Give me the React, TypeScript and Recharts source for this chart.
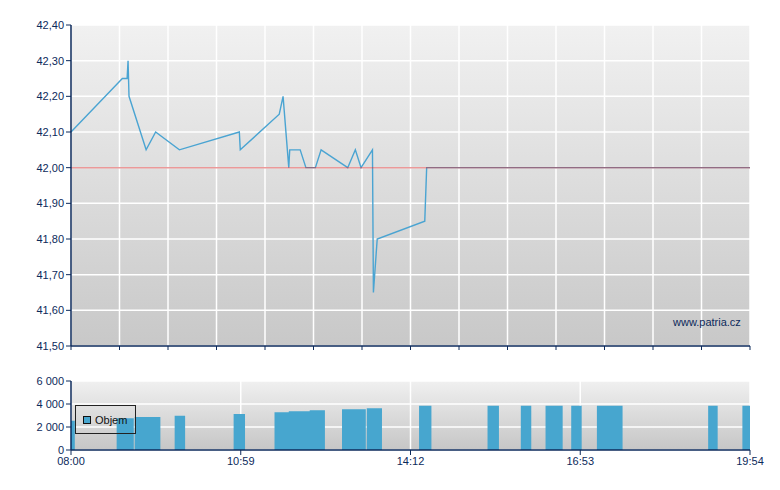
import React from "react";
import {
  ComposedChart,
  Line,
  Area,
  XAxis,
  YAxis,
  CartesianGrid,
  Legend,
} from "recharts";

// x positions are minutes along the session axis (0 = 08:00, 714 = 19:54)
const priceTimes = [0, 54, 59, 60, 61, 79, 89, 114, 177, 178, 219, 223, 229, 230, 241, 247, 257, 263, 291, 299, 305, 317, 318, 322, 372, 374, 714];
const priceValues = [42.1, 42.25, 42.25, 42.3, 42.2, 42.05, 42.1, 42.05, 42.1, 42.05, 42.15, 42.2, 42.0, 42.05, 42.05, 42.0, 42.0, 42.05, 42.0, 42.05, 42.0, 42.05, 41.65, 41.8, 41.85, 42.0, 42.0];
const prevClose = 42.0;

const volStart = [0, 48, 67, 109, 171, 214, 229, 251, 285, 311, 366, 438, 473, 499, 526, 553, 670, 706];
const volEnd = [4, 66, 94, 120, 183, 229, 251, 267, 310, 327, 379, 450, 484, 517, 537, 580, 680, 714];
const volValues = [2540, 2770, 2860, 2970, 3120, 3290, 3380, 3460, 3550, 3640, 3840, 3840, 3840, 3840, 3840, 3840, 3840, 3840];

const priceTicks = [41.5, 41.6, 41.7, 41.8, 41.9, 42.0, 42.1, 42.2, 42.3, 42.4];
const volTicks = [0, 2000, 4000, 6000];
const timeLabels = ["08:00", "10:59", "14:12", "16:53", "19:54"];
const sessionLength = 714;
const topGridCount = 14;

const NAVY = "#0c2a5b";
const BLUE = "#47a6cf";
const FONT = '"Liberation Sans", Arial, sans-serif';

const priceData = priceTimes.map((t, i) => ({ t, p: priceValues[i], ref: prevClose }));

const volData: { t: number; v: number }[] = [];
volStart.forEach((s, i) => {
  volData.push({ t: s, v: volValues[i] });
  volData.push({ t: volEnd[i], v: 0 });
});

const topTicks = Array.from({ length: topGridCount + 1 }, (_, i) => (i * sessionLength) / topGridCount);
const labelTicks = timeLabels.map((_, i) => (i * sessionLength) / (timeLabels.length - 1));

const tickStyle = { fill: NAVY, fontSize: 11, fontFamily: FONT };

const VolumeLegend = (props: any) => {
  const item = (props.payload || [])[0];
  return (
    <div
      style={{
        width: 61,
        height: 29,
        boxSizing: "border-box",
        border: "1px solid #222",
        position: "relative",
        fontFamily: FONT,
        fontSize: 11,
        color: "#111",
      }}
    >
      <span
        style={{
          position: "absolute",
          left: 7,
          top: 10,
          width: 8,
          height: 8,
          boxSizing: "border-box",
          border: "1px solid #111",
          background: BLUE,
        }}
      />
      <span style={{ position: "absolute", left: 19, top: 8, lineHeight: "12px" }}>
        {item ? item.value : "Objem"}
      </span>
    </div>
  );
};

export default function App() {
  return (
    <div style={{ position: "absolute", left: 0, top: 0, width: 780, height: 490, background: "#fff" }}>
      <div style={{ position: "absolute", left: 0, top: 0 }}>
        <ComposedChart width={780} height={360} data={priceData} margin={{ top: 25, right: 30, left: 0, bottom: 4 }}>
          <defs>
            <linearGradient id="bgTop" x1="0" y1="0" x2="0" y2="1">
              <stop offset="0%" stopColor="#f1f1f1" />
              <stop offset="100%" stopColor="#c8c8c8" />
            </linearGradient>
          </defs>
          <CartesianGrid fill="url(#bgTop)" fillOpacity={1} stroke="#ffffff" strokeWidth={1.5} />
          <XAxis
            dataKey="t"
            type="number"
            domain={[0, sessionLength]}
            ticks={topTicks}
            tickFormatter={() => ""}
            height={10}
            tickSize={4}
            axisLine={{ stroke: NAVY, strokeWidth: 1.5 }}
            tickLine={{ stroke: NAVY }}
          />
          <YAxis
            type="number"
            domain={[41.5, 42.4]}
            ticks={priceTicks}
            width={71}
            tickSize={5}
            tick={tickStyle}
            tickFormatter={(v: number) => v.toFixed(2).replace(".", ",")}
            axisLine={{ stroke: NAVY, strokeWidth: 1.5 }}
            tickLine={{ stroke: NAVY }}
          />
          <Line
            type="linear"
            dataKey="p"
            stroke="#4aa4d2"
            strokeWidth={1.4}
            dot={false}
            activeDot={false}
            isAnimationActive={false}
          />
          <Line
            type="linear"
            dataKey="ref"
            stroke="#d83434"
            strokeOpacity={0.5}
            strokeWidth={1.5}
            dot={false}
            activeDot={false}
            isAnimationActive={false}
          />
        </ComposedChart>
      </div>
      <div
        style={{
          position: "absolute",
          left: 673,
          top: 316,
          fontFamily: FONT,
          fontSize: 11,
          color: NAVY,
        }}
      >
        www.patria.cz
      </div>
      <div style={{ position: "absolute", left: 0, top: 360 }}>
        <ComposedChart width={780} height={130} data={volData} margin={{ top: 21, right: 30, left: 0, bottom: 10 }}>
          <defs>
            <linearGradient id="bgBottom" x1="0" y1="0" x2="0" y2="1">
              <stop offset="0%" stopColor="#f0f0f0" />
              <stop offset="100%" stopColor="#c6c6c6" />
            </linearGradient>
          </defs>
          <CartesianGrid fill="url(#bgBottom)" fillOpacity={1} stroke="#ffffff" strokeWidth={1.5} />
          <XAxis
            dataKey="t"
            type="number"
            domain={[0, sessionLength]}
            ticks={labelTicks}
            tickFormatter={(_: number, i: number) => timeLabels[i]}
            height={30}
            tickSize={5}
            tick={tickStyle}
            interval={0}
            axisLine={{ stroke: NAVY, strokeWidth: 1.5 }}
            tickLine={{ stroke: NAVY }}
          />
          <YAxis
            type="number"
            domain={[0, 6000]}
            ticks={volTicks}
            width={71}
            tickSize={5}
            tick={tickStyle}
            tickFormatter={(v: number) => v.toLocaleString("en-US").replace(/,/g, " ")}
            axisLine={{ stroke: NAVY, strokeWidth: 1.5 }}
            tickLine={{ stroke: NAVY }}
          />
          <Area
            type="stepAfter"
            dataKey="v"
            name="Objem"
            stroke="none"
            fill={BLUE}
            fillOpacity={1}
            dot={false}
            activeDot={false}
            isAnimationActive={false}
          />
          <Legend
            layout="horizontal"
            verticalAlign="middle"
            align="center"
            content={VolumeLegend}
            wrapperStyle={{ position: "absolute", left: 75, top: 45, width: 61, height: 29 }}
          />
        </ComposedChart>
      </div>
    </div>
  );
}
